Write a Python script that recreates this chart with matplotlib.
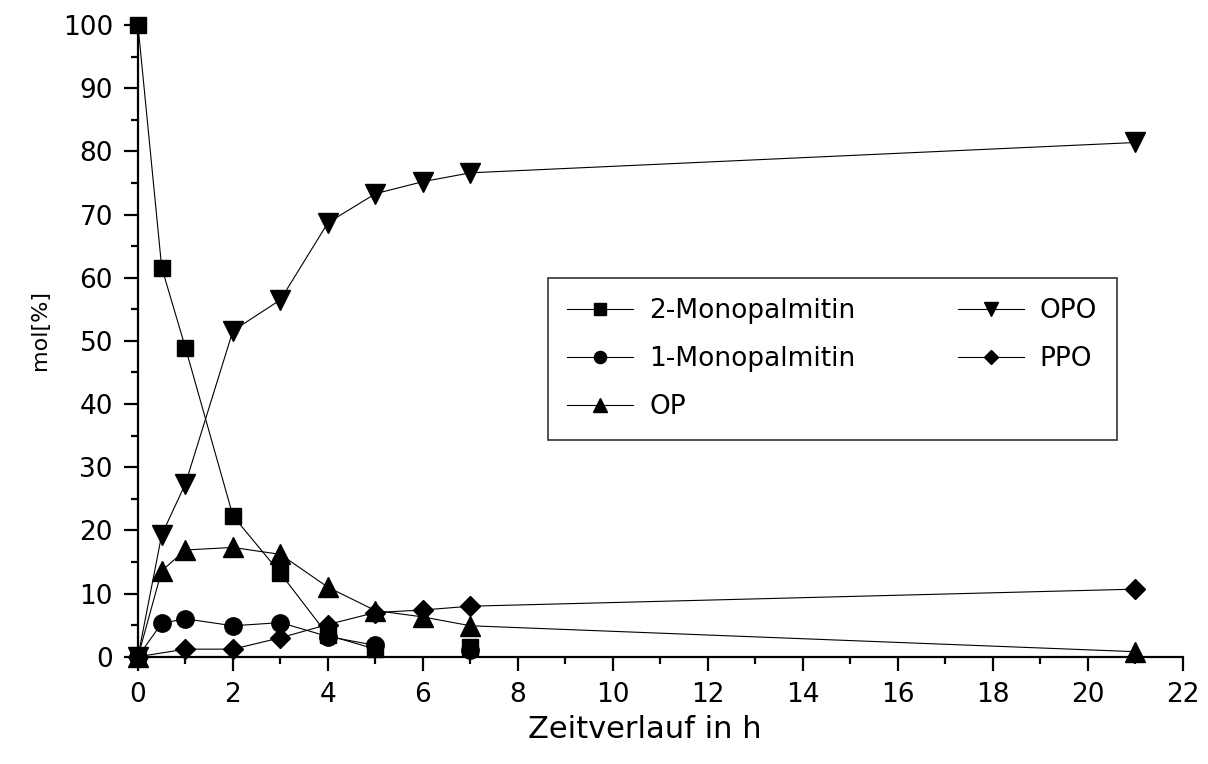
import numpy as np
import matplotlib.pyplot as plt
from matplotlib.ticker import MultipleLocator

plt.rcParams['font.family'] = ['DejaVu Sans']

# reaction course, mol% vs. time in h (no sample for the monoglycerides at 6 h)
t_mono = [0, 0.5, 1, 2, 3, 4, 5, 6, 7]
mono2 = [100, 61.6, 48.9, 22.3, 13.2, 3.4, 1.2, np.nan, 1.6]
mono1 = [0, 5.3, 6.0, 4.9, 5.4, 3.2, 1.8, np.nan, 1.0]

t_op = [0, 0.5, 1, 2, 3, 4, 5, 6, 7, 21]
op = [0, 13.6, 16.9, 17.3, 16.2, 11.0, 7.3, 6.3, 4.9, 0.8]
opo = [0, 19.3, 27.4, 51.6, 56.5, 68.7, 73.3, 75.2, 76.6, 81.4]

t_ppo = [0, 1, 2, 3, 4, 5, 6, 7, 21]
ppo = [0, 1.2, 1.2, 3.0, 5.1, 7.0, 7.4, 8.0, 10.7]

fs = 19

fig = plt.figure(figsize=(12.08, 7.64), dpi=100)
ax = fig.add_axes([0.1142, 0.1404, 0.8651, 0.8269])

kw = dict(color='black', lw=0.8, mfc='black', mec='black', clip_on=False)
ax.plot(t_mono, mono2, marker='s', ms=11.5, label='2-Monopalmitin', **kw)
ax.plot(t_mono, mono1, marker='o', ms=12.5, label='1-Monopalmitin', zorder=1.9, **kw)
ax.plot(t_op, op, marker='^', ms=14.5, label='OP', **kw)
ax.plot(t_op, opo, marker='v', ms=14.5, label='OPO', **kw)
ax.plot(t_ppo, ppo, marker='D', ms=10.5, label='PPO', **kw)

ax.set_xlim(0, 22)
ax.set_ylim(0, 100)
ax.xaxis.set_major_locator(MultipleLocator(2))
ax.xaxis.set_minor_locator(MultipleLocator(1))
ax.yaxis.set_major_locator(MultipleLocator(10))
ax.yaxis.set_minor_locator(MultipleLocator(5))

for s in ['top', 'right']:
    ax.spines[s].set_visible(False)
for s in ['left', 'bottom']:
    ax.spines[s].set_linewidth(1.6)

ax.tick_params(which='major', direction='out', length=10, width=1.6, labelsize=fs)
ax.tick_params(which='minor', direction='out', length=5, width=1.6)
ax.tick_params(axis='x', pad=8)
ax.tick_params(axis='y', pad=8)

ax.set_xlabel('Zeitverlauf in h', fontsize=22)
ax.xaxis.set_label_coords(0.485, -0.1145)
ax.xaxis.label.set_va('center')
ax.set_ylabel('mol[%]', fontsize=16)
ax.yaxis.set_label_coords(-0.0938, 0.517)
ax.yaxis.label.set_va('center')

leg = ax.legend(loc='upper left', bbox_to_anchor=(0.392, 0.343, 0.5445, 0.2565),
                mode='expand', ncol=2, fontsize=fs, frameon=True, fancybox=False,
                edgecolor='black', borderaxespad=0, borderpad=0.75,
                handlelength=2.5, handletextpad=0.6, labelspacing=0.84,
                markerscale=0.7)
leg.get_frame().set_linewidth(1.2)

fig.savefig('out.png', dpi=100)
